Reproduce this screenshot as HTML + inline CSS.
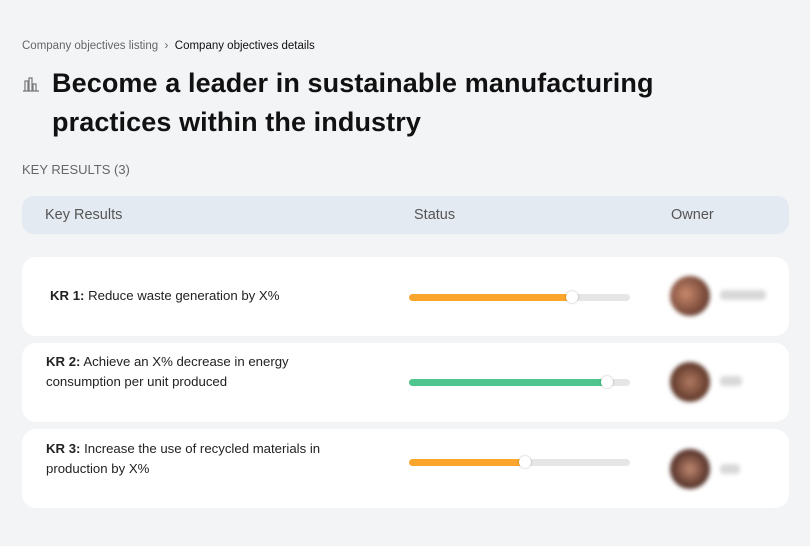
<!DOCTYPE html>
<html><head><style>
body{margin:0;width:810px;height:546px;background:#f3f4f6;font-family:"Liberation Sans",sans-serif;position:relative;overflow:hidden;color:#111}
.a{position:absolute}
.bc{left:22px;top:40px;font-size:11.5px;color:#666}
.bc b{font-weight:normal;color:#111}
h1{position:absolute;left:52px;top:64px;margin:0;font-size:27px;line-height:39px;font-weight:bold;color:#111;letter-spacing:0.1px}
.kr{left:22px;top:162px;font-size:13px;color:#666}
.hd{left:22px;top:196px;width:767px;height:38px;background:#e4eaf2;border-radius:12px;font-size:14.5px;color:#555}
.hd span{position:absolute;top:11px}
.card{left:22px;width:767px;height:79px;background:#fff;border-radius:14px}
.t{position:absolute;font-size:13.2px;line-height:20px;color:#222}
.track{position:absolute;left:387px;width:221px;height:7px;background:#e6e6e6;border-radius:4px}
.fill{position:absolute;left:0;top:0;height:7px;border-radius:4px}
.knob{position:absolute;top:-3px;width:12px;height:12px;border-radius:50%;background:#fff;box-shadow:0 0 2px rgba(0,0,0,.3)}
.av{position:absolute;left:648px;top:19px;width:40px;height:40px;border-radius:50%;filter:blur(2px)}
.nm{position:absolute;left:698px;top:33px;height:10px;background:#d8d8d8;border-radius:4px;filter:blur(2px)}
</style></head><body>
<div class="a bc">Company objectives listing &nbsp;›&nbsp; <b>Company objectives details</b></div>
<svg class="a" style="left:22px;top:76px" width="18" height="16" viewBox="0 0 18 16"><g fill="none" stroke="#777" stroke-width="1.2"><path d="M1 15h16M3 15V5h3v10M7 15V2h3v13M11 15V8h3v7"/></g></svg>
<h1>Become a leader in sustainable manufacturing<br>practices within the industry</h1>
<div class="a kr">KEY RESULTS (3)</div>
<div class="a hd"><span style="left:23px">Key Results</span><span style="left:392px">Status</span><span style="left:649px">Owner</span></div>

<div class="a card" style="top:257px">
<div class="t" style="left:28px;top:29px"><b>KR 1:</b> Reduce waste generation by X%</div>
<div class="track" style="top:37px"><div class="fill" style="width:166px;background:#fba52d"></div><div class="knob" style="left:157px"></div></div>
<div class="av" style="background:radial-gradient(circle at 40% 45%,#c98a6e,#7a4a3a 60%,#3a2a25)"></div>
<div class="nm" style="width:46px"></div>
</div>
<div class="a card" style="top:343px">
<div class="t" style="left:24px;top:9px"><b>KR 2:</b> Achieve an X% decrease in energy<br>consumption per unit produced</div>
<div class="track" style="top:36px"><div class="fill" style="width:202px;background:#4dc58c"></div><div class="knob" style="left:192px"></div></div>
<div class="av" style="background:radial-gradient(circle at 50% 50%,#b07a62,#6a4030 60%,#3a2822)"></div>
<div class="nm" style="width:22px"></div>
</div>
<div class="a card" style="top:429px">
<div class="t" style="left:24px;top:10px"><b>KR 3:</b> Increase the use of recycled materials in<br>production by X%</div>
<div class="track" style="top:30px"><div class="fill" style="width:120px;background:#fba52d"></div><div class="knob" style="left:110px"></div></div>
<div class="av" style="top:20px;background:radial-gradient(circle at 50% 50%,#c08870,#603a30 60%,#2a1e1a)"></div>
<div class="nm" style="width:20px;top:35px"></div>
</div>
</body></html>
